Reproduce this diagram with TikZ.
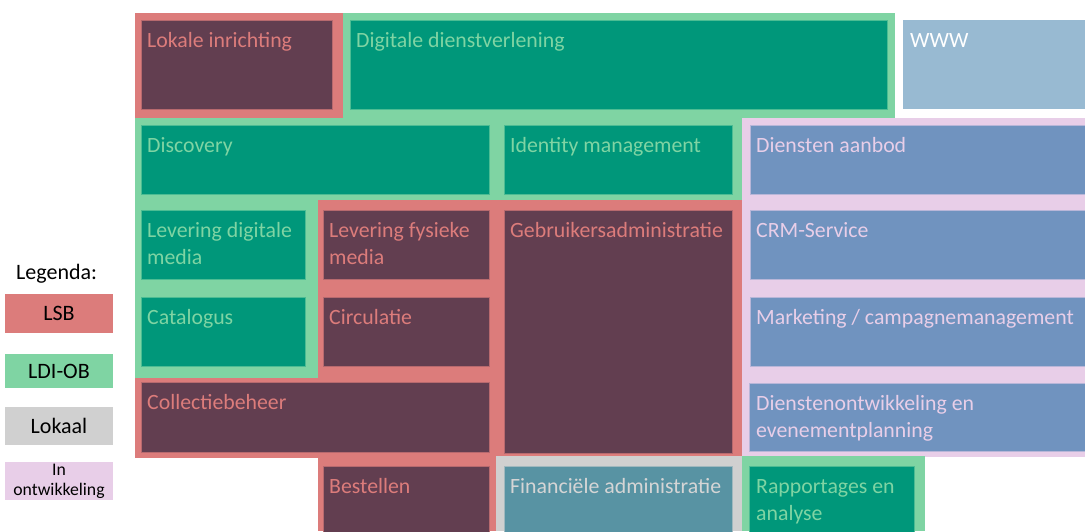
\documentclass[tikz,border=0pt]{standalone}
\usepackage{fontspec}
\setmainfont{Carlito}
\definecolor{lsb}{HTML}{DC7C7B}
\definecolor{lsbin}{HTML}{623E50}
\definecolor{ldi}{HTML}{7FD4A3}
\definecolor{ldiin}{HTML}{00977A}
\definecolor{ont}{HTML}{E8CEE8}
\definecolor{ontin}{HTML}{7093BF}
\definecolor{lok}{HTML}{D0D0D0}
\definecolor{lokin}{HTML}{5893A3}
\definecolor{www}{HTML}{98BAD2}
\newcommand{\twol}[2]{\begin{tabular}[t]{@{}l@{}}#1\\#2\end{tabular}}
\tikzset{
  lsbbox/.style={fill=lsbin, draw=lsb!70!lsbin, line width=0.8pt},
  ldibox/.style={fill=ldiin, draw=ldi!60!ldiin, line width=0.8pt},
  ontbox/.style={fill=ontin, draw=ont!60!ontin, line width=0.8pt},
  lokbox/.style={fill=lokin, draw=lok!60!lokin, line width=0.8pt},
  lbl/.style={anchor=base west, inner sep=0pt, font=\fontsize{21.8}{27}\selectfont},
  lsbtxt/.style={lbl, text=lsb},
  lditxt/.style={lbl, text=ldi},
  onttxt/.style={lbl, text=ont},
  loktxt/.style={lbl, text=lok!90!white},
  legbox/.style={inner sep=0pt, minimum width=108pt, font=\fontsize{22}{26}\selectfont, text=black},
}
\begin{document}
\begin{tikzpicture}[x=1pt,y=-1pt]
\useasboundingbox (0,0) rectangle (1085,531);
% background regions
\fill[lsb] (135,13) rectangle (343,118);
\fill[ldi] (343,13) rectangle (895,118);
\fill[ldi] (135,118) rectangle (742,200);
\fill[ldi] (135,200) rectangle (318,378);
\fill[lsb] (318,200) rectangle (742,456);
\fill[lsb] (135,378) rectangle (496,458);
\fill[lsb] (318,458) rectangle (496,531);
\fill[ont] (742,118) rectangle (1085,457);
\fill[lok] (496,456) rectangle (742,531);
\fill[ldi] (742,456) rectangle (925,531);
% inner boxes
\path[lsbbox] (141,20) rectangle (332,109);
\node[lsbtxt] (lokinr) at (147,47) {Lokale inrichting};
\path[ldibox] (350,20) rectangle (887,109);
\node[lditxt] (digdv) at (356,47) {Digitale dienstverlening};
\fill[www] (903,20) rectangle (1085,109);
\node[lbl, text=white] (www) at (910,47) {WWW};
\path[ldibox] (141,125) rectangle (489,194);
\node[lditxt] (disc) at (147,152) {Discovery};
\path[ldibox] (504,125) rectangle (732,194);
\node[lditxt] (idm) at (510,152) {Identity management};
\path[ontbox] (750,125) rectangle (1086,194);
\node[onttxt] (dienst) at (756,152) {Diensten aanbod};
\path[ldibox] (141,210) rectangle (305,279);
\node[lditxt] (levdig) at (147,237) {\twol{Levering digitale}{media}};
\path[lsbbox] (323,210) rectangle (489,279);
\node[lsbtxt] (levfys) at (329,237) {\twol{Levering fysieke}{media}};
\path[lsbbox] (504,210) rectangle (732,453);
\node[lsbtxt] (gebr) at (510,237) {Gebruikersadministratie};
\path[ontbox] (750,210) rectangle (1086,279);
\node[onttxt] (crm) at (756,237) {CRM-Service};
\path[ldibox] (141,297) rectangle (305,366);
\node[lditxt] (cat) at (147,324) {Catalogus};
\path[lsbbox] (323,297) rectangle (489,366);
\node[lsbtxt] (circ) at (329,324) {Circulatie};
\path[ontbox] (750,297) rectangle (1086,366);
\node[onttxt] (mark) at (756,324) {Marketing / campagnemanagement};
\path[lsbbox] (141,382) rectangle (489,452);
\node[lsbtxt] (coll) at (147,409) {Collectiebeheer};
\path[ontbox] (749,383) rectangle (1086,451);
\node[onttxt] (dontw) at (756,410) {\twol{Dienstenontwikkeling en}{evenementplanning}};
\path[lsbbox] (323,466) rectangle (489,532);
\node[lsbtxt] (best) at (329,493) {Bestellen};
\path[lokbox] (504,466) rectangle (732,532);
\node[loktxt] (fin) at (510,493) {Financiële administratie};
\path[ldibox] (749,466) rectangle (914,532);
\node[lditxt] (rapp) at (756,493) {\twol{Rapportages en}{analyse}};
% legend
\node[inner sep=0pt, font=\fontsize{22}{26}\selectfont, anchor=base west] (leg) at (16,279) {Legenda:};
\node[legbox, fill=lsb, minimum height=39pt] (lLSB) at (59,313.5) {LSB};
\node[legbox, fill=ldi, minimum height=34pt] (lLDI) at (59,371) {LDI-OB};
\node[legbox, fill=lok, minimum height=38pt] (lLok) at (59,426) {Lokaal};
\node[legbox, fill=ont, minimum height=38pt, align=center, font=\fontsize{17.7}{20}\selectfont] (lOnt) at (59,481) {In\\ontwikkeling};
\end{tikzpicture}
\end{document}
